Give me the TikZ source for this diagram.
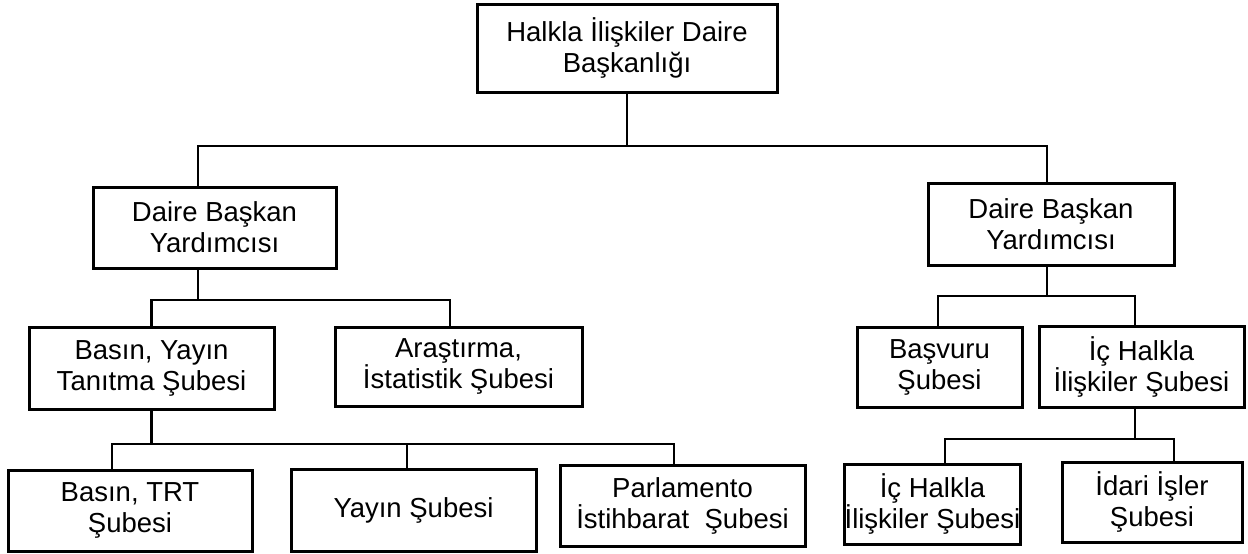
\documentclass[tikz,border=0pt]{standalone}
\usepackage{fontspec}
\setmainfont{Liberation Sans}
\begin{document}
\begin{tikzpicture}[x=1pt,y=-1pt,
  box/.style={draw=black, line width=3pt, inner sep=0pt, align=center,
    font=\fontsize{27.5}{31}\selectfont},
  conn/.style={line width=2.8pt, line cap=rect}]
\useasboundingbox (0,0) rectangle (1248,554);

% Level 1
\node[box, minimum width=300pt, minimum height=88pt] (top) at (627,48) {Halkla İlişkiler Daire\\Başkanlığı};

% Level 2
\node[box, minimum width=243pt, minimum height=81pt] (dbyL) at (214.5,227.5) {Daire Başkan\\Yardımcısı};
\node[box, minimum width=246pt, minimum height=82pt] (dbyR) at (1051,224) {Daire Başkan\\Yardımcısı};

% Level 3
\node[box, minimum width=245pt, minimum height=82pt] (basinY) at (151.5,368) {Basın, Yayın\\Tanıtma Şubesi};
\node[box, minimum width=247pt, minimum height=79pt] (arast) at (458.5,366.5) {Araştırma,\\İstatistik Şubesi};
\node[box, minimum width=165pt, minimum height=80pt] (basvuru) at (939.5,367) {Başvuru\\Şubesi};
\node[box, minimum width=205pt, minimum height=81pt] (icH) at (1141.5,366.5) {İç Halkla\\İlişkiler Şubesi};

% Level 4
\node[box, minimum width=244pt, minimum height=81pt] (trt) at (130,510.5) {Basın, TRT\\Şubesi};
\node[box, minimum width=245pt, minimum height=82pt] (yayin) at (413.5,510) {Yayın Şubesi};
\node[box, minimum width=245pt, minimum height=81pt] (parl) at (682.5,505.5) {Parlamento\\İstihbarat~ Şubesi};
\node[box, minimum width=175pt, minimum height=80pt] (icH2) at (932.5,504) {İç Halkla\\İlişkiler Şubesi};
\node[box, minimum width=180pt, minimum height=80pt] (idari) at (1152,502) {İdari İşler\\Şubesi};

% Bus lines
\coordinate (bus1) at (0,146);
\coordinate (bus2) at (0,300);
\coordinate (bus3) at (0,444);
\coordinate (bus4) at (0,296);
\coordinate (bus5) at (0,439);

% Connection points on the boxes
\coordinate (dL) at ([xshift=-16.5pt]dbyL.south);
\coordinate (dR) at ([xshift=-4pt]dbyR.south);
\coordinate (dI) at ([xshift=-6.5pt]icH.south);

% Top to deputies
\draw[conn] (top.south) -- (top.south |- bus1);
\draw[conn] ([xshift=-16.5pt]dbyL.north) |- ([xshift=-4pt]dbyR.north |- bus1) -- ([xshift=-4pt]dbyR.north);

% Left deputy to its branches
\draw[conn] (dL) -- (dL |- bus2);
\draw[conn] (basinY.north) |- ([xshift=-8.5pt]arast.north |- bus2) -- ([xshift=-8.5pt]arast.north);

% Press branch to its sections
\draw[conn] (basinY.south) -- (basinY.south |- bus3);
\draw[conn] ([xshift=-18pt]trt.north) |- ([xshift=-8.5pt]parl.north |- bus3) -- ([xshift=-8.5pt]parl.north);
\draw[conn] ([xshift=-6.5pt]yayin.north) -- ([xshift=-6.5pt]yayin.north |- bus3);

% Right deputy to its branches
\draw[conn] (dR) -- (dR |- bus4);
\draw[conn] ([xshift=-1.5pt]basvuru.north) |- ([xshift=-6.5pt]icH.north |- bus4) -- ([xshift=-6.5pt]icH.north);

% Internal relations branch to its sections
\draw[conn] (dI) -- (dI |- bus5);
\draw[conn] ([xshift=12.5pt]icH2.north) |- ([xshift=22pt]idari.north |- bus5) -- ([xshift=22pt]idari.north);
\end{tikzpicture}
\end{document}
